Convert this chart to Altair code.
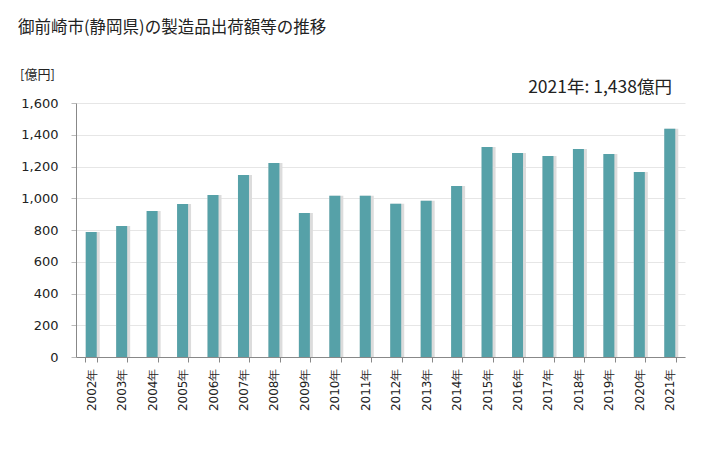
import altair as alt
import pandas as pd

years = ["2002年","2003年","2004年","2005年","2006年","2007年","2008年","2009年","2010年","2011年",
         "2012年","2013年","2014年","2015年","2016年","2017年","2018年","2019年","2020年","2021年"]
values = [787, 825, 920, 964, 1020, 1146, 1222, 907, 1015, 1015,
          965, 985, 1077, 1323, 1285, 1266, 1310, 1279, 1165, 1438]

df = pd.DataFrame({"year": years, "value": values})

FONT = "Noto Sans CJK JP"
LFONT = "Verdana, 'DejaVu Sans', sans-serif"

x = alt.X("year:N", sort=None, title=None,
          scale=alt.Scale(paddingInner=0.62, paddingOuter=0.31),
          axis=alt.Axis(labelAngle=-90, labelFontSize=12, labelColor="#222", labelFont=LFONT,
                        domainColor="#888", tickColor="#888", tickBand="extent", tickSize=5,
                        labelPadding=6, grid=False))
y = alt.Y("value:Q", title=None,
          scale=alt.Scale(domain=[0, 1600], nice=False),
          axis=alt.Axis(values=list(range(0, 1601, 200)), format=",d", labelFontSize=13,
                        labelColor="#222", labelFont=LFONT, domainColor="#888", tickColor="#bbb",
                        tickSize=5, labelPadding=13, gridColor="#e6e6e6"))

shadow = alt.Chart(df).mark_bar(color="#dcdcdc", xOffset=1.5, size=14).encode(x=x, y=y)
bars = alt.Chart(df).mark_bar(color="#56a1a8", size=11).encode(x=x, y=y)

title = alt.Chart(pd.DataFrame({"t": ["御前崎市(静岡県)の製造品出荷額等の推移"]})).mark_text(
    align="left", baseline="middle", fontSize=16.5, font=FONT, color="#222").encode(
    text="t:N", x=alt.value(-58), y=alt.value(-75))
unit = alt.Chart(pd.DataFrame({"t": ["[億円]"]})).mark_text(
    align="left", baseline="middle", fontSize=13, font=FONT, color="#222").encode(
    text="t:N", x=alt.value(-56), y=alt.value(-28))
ann = alt.Chart(pd.DataFrame({"t": ["2021年: 1,438億円"]})).mark_text(
    align="right", baseline="middle", fontSize=17.5, font=FONT, color="#222").encode(
    text="t:N", x=alt.value(596), y=alt.value(-15))

chart = alt.layer(shadow, bars, title, unit, ann).properties(
    width=609, height=254,
    autosize=alt.AutoSizeParams(type="none"),
    padding={"left": 68, "top": 95, "right": 35, "bottom": 80},
    background="white",
).configure_view(stroke=None)

chart.save("out.html", embed_options={"renderer": "svg", "actions": False})
